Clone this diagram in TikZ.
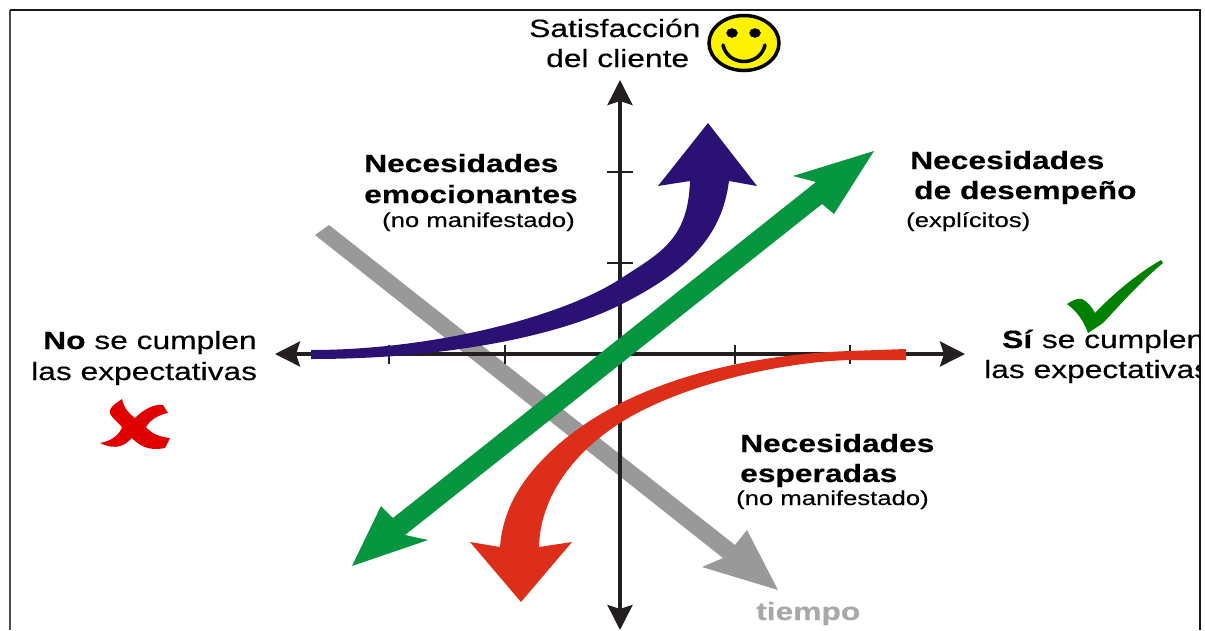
\documentclass[tikz,border=0pt]{standalone}
\usepackage{fontspec}
\setmainfont[FakeStretch=1.27,FakeBold=0.35]{Liberation Sans}
\usetikzlibrary{arrows.meta}
\definecolor{axiscolor}{HTML}{231F20}
\definecolor{purplearrow}{HTML}{2A1173}
\definecolor{greenarrow}{HTML}{06963F}
\definecolor{redarrow}{HTML}{DD2E1A}
\definecolor{greyarrow}{HTML}{999999}
\definecolor{crosscolor}{HTML}{E00000}
\definecolor{checkcolor}{HTML}{008000}
\tikzset{
    axisline/.style={draw=axiscolor, line width=3.4pt, {Stealth[length=25pt,width=25pt,inset=4pt]}-{Stealth[length=25pt,width=25pt,inset=4pt]}},
    tickline/.style={draw=axiscolor, line width=1.6pt},
    maintext/.style={anchor=base west, inner sep=0pt, font=\fontsize{25}{30}\selectfont},
    smalltext/.style={anchor=base west, inner sep=0pt, font=\fontsize{20.2}{24}\selectfont}
}
\begin{document}
\begin{tikzpicture}[x=1pt,y=-1pt]
        \useasboundingbox (0,0) rectangle (1205,630);

        \draw[line width=1.6pt, black!70] (10,630) -- (10,10);
        \draw[line width=1.6pt, black!90] (10,10) -- (1200,10) -- (1200,630);

        % grey arrow first, the axes run over it
        \filldraw[greyarrow, draw=none] (315,235) -- (329,225) -- (735,545) -- (747,530) -- (778,590) -- (702,567) -- (723,558) -- cycle;

        \coordinate (xleft) at (275,354);
        \coordinate (xright) at (965,354);
        \coordinate (ytop) at (620,80);
        \coordinate (ybottom) at (620,630);
        \draw[axisline] (xleft) -- (xright);
        \draw[axisline] (ybottom) -- (ytop);

        \foreach \x in {389,505,735,850} {
            \draw[tickline] (\x,345) -- (\x,364);
        }
        \foreach \y in {172,263} {
            \draw[tickline] (607,\y) -- (633,\y);
        }

        \filldraw[purplearrow, draw=none] (311,350) .. controls (430,350) and (560,318) .. (620,279)
            .. controls (660,253) and (688,240) .. (690,181) -- (658,186) -- (708,123) -- (757,186) -- (729,181)
            .. controls (722,235) and (690,270) .. (620,305)
            .. controls (560,335) and (450,359) .. (311,359) -- cycle;

        \filldraw[redarrow, draw=none] (906,349) -- (850,351) .. controls (760,354) and (640,375) .. (560,443)
            .. controls (520,478) and (503,510) .. (500,547) -- (470,542) -- (521,602) -- (572,542) -- (539,547)
            .. controls (540,500) and (570,455) .. (620,423)
            .. controls (680,385) and (780,362) .. (850,360) -- (906,360) -- cycle;

        \filldraw[greenarrow, draw=none] (874,151) -- (834,214) -- (822,204) -- (405,535) -- (428,540) -- (352,566)
            -- (381,506) -- (393,518) -- (816,182) -- (793,176) -- cycle;

        \filldraw[crosscolor, draw=none] (122,399) .. controls (124,408) and (129,414) .. (135,418)
            .. controls (145,408) and (155,404) .. (163,405) -- (168,413)
            .. controls (158,415) and (150,420) .. (146,427)
            .. controls (152,434) and (160,437) .. (170,438) -- (165,448)
            .. controls (155,450) and (143,450) .. (132,438)
            .. controls (125,445) and (117,451) .. (100,443)
            .. controls (112,441) and (120,434) .. (122,427)
            .. controls (116,420) and (108,415) .. (110,410)
            .. controls (112,405) and (118,402) .. (122,399) -- cycle;

        \filldraw[checkcolor, draw=none] (1161,260) -- (1163,263) .. controls (1140,282) and (1120,305) .. (1103,323)
            -- (1088,333) .. controls (1084,322) and (1078,312) .. (1067,304)
            .. controls (1073,300) and (1078,298) .. (1082,299) .. controls (1088,302) and (1092,307) .. (1095,313)
            .. controls (1110,297) and (1135,275) .. (1161,260) -- cycle;

        \filldraw[fill=yellow, draw=black, line width=3.5pt] (744,43) circle [x radius=35, y radius=27.5];
        \filldraw[black] (732,33) circle [x radius=5.5, y radius=4.5];
        \filldraw[black] (755,33) circle [x radius=5.5, y radius=4.5];
        \draw[black, line width=3.5pt, line cap=round] (723,45) .. controls (728,67) and (760,67) .. (765,45);

        \node[maintext] (satisfaccion) at (529,37) {Satisfacción};
        \node[maintext] (cliente) at (546,67) {del cliente};

        \node[maintext] (emoTitle) at (364,172) {\textbf{Necesidades}};
        \node[maintext] (emoName) at (364,203) {\textbf{emocionantes}};
        \node[smalltext] (emoNote) at (382,227) {(no manifestado)};

        \node[maintext] (desTitle) at (910,169) {\textbf{Necesidades}};
        \node[maintext] (desName) at (914,199) {\textbf{de desempeño}};
        \node[smalltext] (desNote) at (906,227) {(explícitos)};

        \node[maintext] (espTitle) at (740,452) {\textbf{Necesidades}};
        \node[maintext] (espName) at (740,482) {\textbf{esperadas}};
        \node[smalltext] (espNote) at (736,505) {(no manifestado)};

        \node[maintext] (noLine) at (43,349) {\textbf{No} se cumplen};
        \node[maintext] (noExp) at (31,380) {las expectativas};

        \begin{scope}
            \clip (900,300) rectangle (1200,400);
            \node[maintext] (siLine) at (1002,348) {\textbf{Sí} se cumplen};
            \node[maintext] (siExp) at (984,378) {las expectativas};
        \end{scope}

        \node[maintext, text=greyarrow!85] (tiempo) at (756,620) {\textbf{tiempo}};
    \end{tikzpicture}
\end{document}
